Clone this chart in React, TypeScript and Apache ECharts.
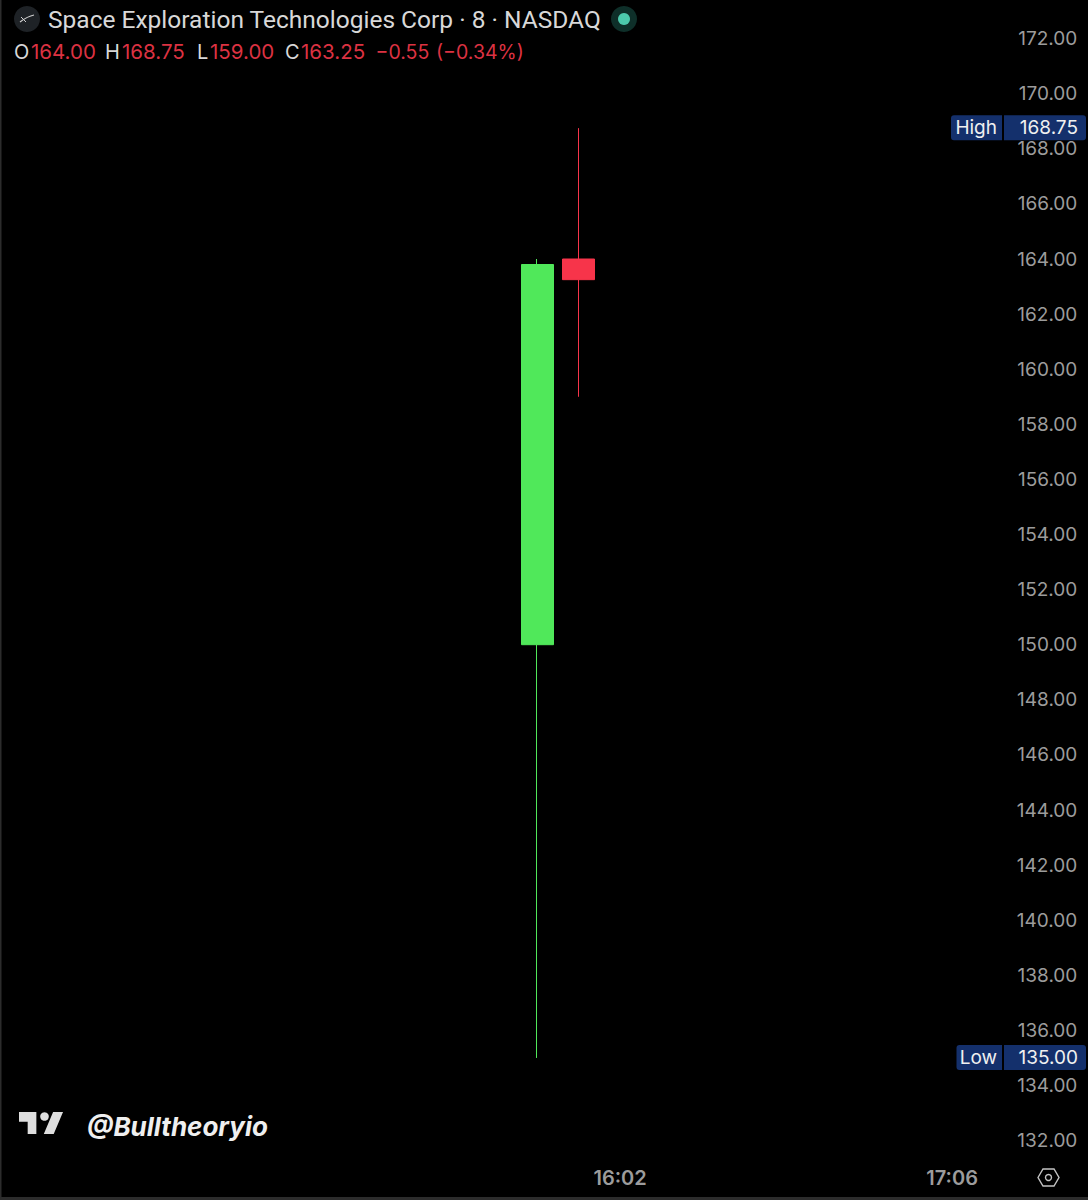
import React, { useEffect, useRef } from "react";
import * as echarts from "echarts";

// 8-minute bars along the time axis
const barTimes = [
  "14:10", "14:18", "14:26", "14:34", "14:42", "14:50", "14:58", "15:06",
  "15:14", "15:22", "15:30", "15:38", "15:46", "15:54", "16:02", "16:10",
  "16:18", "16:26", "16:34", "16:42", "16:50", "16:58", "17:06", "17:14",
];
const labelledTimes = ["16:02", "17:06"];

const candleTimes = ["15:46", "15:54"];
const opens = [150.0, 164.0];
const closes = [163.8, 163.25];
const lows = [135.0, 159.0];
const highs = [164.0, 168.75];

const extremeNames = ["High", "Low"];
const extremeValues = [168.75, 135.0];

const titleText = "Space Exploration Technologies Corp · 8 · NASDAQ";
const ohlcLabels = ["O", "H", "L", "C"];
const ohlcValues = ["164.00", "168.75", "159.00", "163.25"];
const changeValue = "−0.55";
const changePercent = "(−0.34%)";
const watermark = "@Bulltheoryio";

const FONT = "Inter, Roboto, sans-serif";
const TITLE_FONT = "Roboto, Inter, sans-serif";
const GREY = "#d8d8d8";
const AXIS_GREY = "#9c9c9c";
const RED_TEXT = "#dc3242";
const GREEN = "#50e85a";
const RED = "#f7344a";
const TAG = "#14306c";

echarts.graphic.registerShape(
  "tvLogo",
  echarts.graphic.extendPath("M14 0H0v7h7v9h7V0zM28 16h-8L27.5 0H35.5L28 16z", {})
);

const ohlcX = [14, 105, 197, 285];
const ohlcValueX = [31, 122, 210, 301];

export default function App() {
  const ref = useRef<HTMLDivElement>(null);

  useEffect(() => {
    document.body.style.margin = "0";
    document.body.style.background = "#000";
    const chart = echarts.init(ref.current!, undefined, { renderer: "svg" });

    const candleData = barTimes.map((t) => {
      const i = candleTimes.indexOf(t);
      return i < 0 ? ["-", "-", "-", "-"] : [opens[i], closes[i], lows[i], highs[i]];
    });

    const headerTexts: any[] = [];
    ohlcLabels.forEach((l, i) => {
      headerTexts.push({
        type: "text", x: ohlcX[i], y: 51.5,
        style: { text: l, fill: GREY, font: `20px ${FONT}`, textVerticalAlign: "middle" },
      });
      headerTexts.push({
        type: "text", x: ohlcValueX[i], y: 51.5,
        style: { text: ohlcValues[i], fill: RED_TEXT, font: `20.5px ${FONT}`, textVerticalAlign: "middle" },
      });
    });

    chart.setOption({
      animation: false,
      backgroundColor: "#000",
      grid: { left: 18.35, width: 996, top: 38.6, height: 1102, containLabel: false },
      xAxis: {
        type: "category",
        data: barTimes,
        boundaryGap: true,
        axisLine: { show: false },
        axisTick: { show: false },
        splitLine: { show: false },
        axisLabel: {
          color: AXIS_GREY,
          fontFamily: FONT,
          fontWeight: 600,
          fontSize: 20,
          margin: 27,
          interval: (_: number, v: string) => labelledTimes.includes(v),
        },
      },
      yAxis: {
        type: "value",
        position: "right",
        min: 132,
        max: 172,
        interval: 2,
        axisLine: { show: false },
        axisTick: { show: false },
        splitLine: { show: false },
        axisLabel: {
          color: AXIS_GREY,
          fontFamily: FONT,
          fontSize: 19,
          align: "right",
          margin: 63,
          formatter: (v: number) => v.toFixed(2),
        },
      },
      series: [
        {
          type: "candlestick",
          data: candleData,
          barWidth: 32.6,
          silent: true,
          clip: false,
          itemStyle: {
            color: GREEN,
            color0: RED,
            borderColor: GREEN,
            borderColor0: RED,
            borderWidth: 1,
          },
        },
        {
          type: "custom",
          silent: true,
          clip: false,
          z: 5,
          data: extremeNames.map((n, i) => [0, extremeValues[i]]),
          renderItem: (params: any, api: any) => {
            const y = api.coord([0, api.value(1)])[1];
            const name = extremeNames[params.dataIndex];
            const left = name === "High" ? 951 : 956.5;
            return {
              type: "group",
              children: [
                { type: "rect", shape: { x: left, y: y - 13, width: 1002 - left, height: 25, r: [3, 0, 0, 3] }, style: { fill: TAG } },
                { type: "rect", shape: { x: 1004, y: y - 13, width: 82, height: 25, r: [0, 3, 3, 0] }, style: { fill: TAG } },
                {
                  type: "text",
                  x: 997, y: y - 0.8,
                  style: { text: name, fill: "#f0f0f0", font: `19px ${FONT}`, textAlign: "right", textVerticalAlign: "middle" },
                },
                {
                  type: "text",
                  x: 1078, y: y - 0.8,
                  style: { text: api.value(1).toFixed(2), fill: "#f0f0f0", font: `19px ${FONT}`, textAlign: "right", textVerticalAlign: "middle" },
                },
              ],
            };
          },
        },
      ],
      graphic: [
        { type: "rect", shape: { x: 0, y: 0, width: 1.5, height: 1200 }, style: { fill: "#2c2c2c" } },
        { type: "rect", shape: { x: 0, y: 1197, width: 1088, height: 3 }, style: { fill: "#2c2c2c" } },
        { type: "circle", shape: { cx: 27, cy: 19, r: 13 }, style: { fill: "#1e2226" } },
        { type: "bezierCurve", shape: { x1: 20, y1: 22, x2: 34, y2: 15, cpx1: 24, cpy1: 19, cpx2: 29, cpy2: 16 }, style: { stroke: "#cfcfcf", lineWidth: 1.2, fill: "none" } },
        { type: "line", shape: { x1: 21, y1: 17, x2: 26, y2: 22 }, style: { stroke: "#cfcfcf", lineWidth: 1 } },
        {
          type: "text", x: 48, y: 19,
          style: { text: titleText, fill: GREY, font: `24.5px ${TITLE_FONT}`, textVerticalAlign: "middle" },
        },
        { type: "circle", shape: { cx: 624, cy: 19, r: 13 }, style: { fill: "#0e2f29" } },
        { type: "circle", shape: { cx: 624, cy: 19, r: 6 }, style: { fill: "#4cc9ac" } },
        ...headerTexts,
        {
          type: "text", x: 375.5, y: 51.5,
          style: { text: changeValue, fill: RED_TEXT, font: `19.5px ${FONT}`, textVerticalAlign: "middle" },
        },
        {
          type: "text", x: 436, y: 51.5,
          style: { text: changePercent, fill: RED_TEXT, font: `19.5px ${FONT}`, textVerticalAlign: "middle" },
        },
        { type: "tvLogo", x: 19, y: 1112, scaleX: 1.24, scaleY: 1.38, style: { fill: "#dedede" } },
        { type: "circle", shape: { cx: 44.5, cy: 1116.5, r: 4.3 }, style: { fill: "#dedede" } },
        {
          type: "text", x: 87, y: 1126,
          style: { text: watermark, fill: "#efefef", font: `italic 700 26px ${FONT}`, textVerticalAlign: "middle" },
        },
        {
          type: "polygon",
          shape: { points: [[1038, 1177.5], [1043, 1169], [1054, 1169], [1059, 1177.5], [1054, 1186], [1043, 1186]] },
          style: { fill: "none", stroke: "#c4c4c4", lineWidth: 1.4 },
        },
        { type: "circle", shape: { cx: 1048.5, cy: 1177.5, r: 3 }, style: { fill: "none", stroke: "#c4c4c4", lineWidth: 1.4 } },
      ],
    });
    return () => chart.dispose();
  }, []);

  return <div ref={ref} style={{ position: "absolute", left: 0, top: 0, width: 1088, height: 1200 }} />;
}
